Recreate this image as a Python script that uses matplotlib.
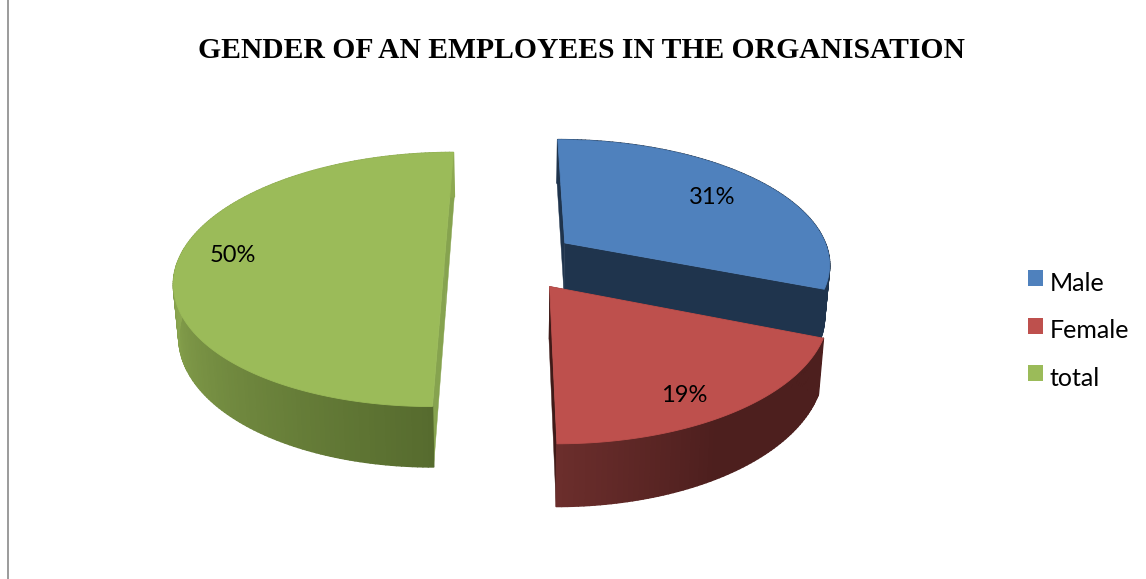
import numpy as np
import matplotlib
matplotlib.use("Agg")
import matplotlib.pyplot as plt
from matplotlib.collections import PolyCollection
from matplotlib.colors import to_rgb
from matplotlib.legend_handler import HandlerPatch
from matplotlib.patches import Patch, Polygon, Rectangle

TITLE      = "GENDER OF AN EMPLOYEES IN THE ORGANISATION"
categories = ["Male", "Female", "total"]
shares     = [31, 19, 50]

TOP_COLORS  = ["#4F81BD", "#BE504D", "#9BBB59"]
FACE_COLORS = ["#1F344D", "#3F1A18", "#86A34F"]
# wall shading along the rim: (angle clockwise from 12 o'clock, colour)
WALL_STOPS = [
    [(0, "#1F344D"), (360, "#1F344D")],
    [(0, "#4D1F1E"), (150, "#4D1F1E"), (180, "#6B2E2C")],
    [(180, "#566B2E"), (270, "#8DA951"), (360, "#8DA951")],
]
LABEL_XY = [(712, 197), (684, 395), (233, 255)]

# projection of the pie plane onto the canvas (pixels)
CX, CY = 511, 260
RX, RY = 266, 124
PERSP  = 0.154
DEPTH  = 51
DROP_SHRINK = 0.984
EXPLODE = 0.25


def project(x, v, drop=0.0):
    x, v = np.asarray(x, float), np.asarray(v, float)
    s = 1.0 / (1.0 - PERSP * v)
    px = RX * x * s
    py = RY * v * s + drop * s
    if drop:
        px = px * DROP_SHRINK
    return CX + px, CY + py


def wall_color(theta, stops):
    angles = [a for a, _ in stops]
    rgb = np.array([to_rgb(c) for _, c in stops])
    return [np.interp(theta, angles, rgb[:, i]) for i in range(3)]


def raised_square(legend, orig_handle, xdescent, ydescent, width, height, fontsize):
    # legend keys sit a little above the text baseline
    return Rectangle((-xdescent, -ydescent + 2.9), width, height)


fig = plt.figure(figsize=(11.46, 5.79), dpi=100, facecolor="white")
ax = fig.add_axes([0, 0, 1, 1])
ax.set_xlim(0, 1146)
ax.set_ylim(579, 0)
ax.axis("off")

# page margin rule on the left
ax.plot([8, 8], [0, 579], color="#808080", lw=1.1)

ax.text(581, 50, TITLE, ha="center", va="center", fontsize=21.3,
        fontweight="bold", family="Liberation Serif", color="black")

# cumulative angles, clockwise from 12 o'clock
edges = np.concatenate([[0], np.cumsum(shares)]) / np.sum(shares) * 360

# back slices first so the red one sits on top of the navy wall
for i in [0, 2, 1]:
    start, end = edges[i], edges[i + 1]
    mid = np.radians((start + end) / 2)
    ox, ov = EXPLODE * np.sin(mid), -EXPLODE * np.cos(mid)

    theta = np.linspace(start, end, int(end - start) + 2)
    rad = np.radians(theta)
    rim_x, rim_v = ox + np.sin(rad), ov - np.cos(rad)

    top_x, top_y = project(rim_x, rim_v)
    low_x, low_y = project(rim_x, rim_v, DEPTH)
    apex_x, apex_y = project(ox, ov)
    apex_lx, apex_ly = project(ox, ov, DEPTH)

    # the two cut faces
    for k in (0, -1):
        ax.add_patch(Polygon([(apex_x, apex_y), (top_x[k], top_y[k]),
                              (low_x[k], low_y[k]), (apex_lx, apex_ly)],
                             closed=True, facecolor=FACE_COLORS[i],
                             edgecolor=FACE_COLORS[i], lw=0.3))

    # rim wall as thin strips so the shading can vary
    strips, cols = [], []
    for j in range(len(theta) - 1):
        strips.append([(top_x[j], top_y[j]), (top_x[j + 1], top_y[j + 1]),
                       (low_x[j + 1], low_y[j + 1]), (low_x[j], low_y[j])])
        cols.append(wall_color((theta[j] + theta[j + 1]) / 2, WALL_STOPS[i]))
    ax.add_collection(PolyCollection(strips, facecolors=cols, edgecolors="face",
                                     linewidths=1.2))

    # top surface
    outline = [(apex_x, apex_y)] + list(zip(top_x, top_y))
    ax.add_patch(Polygon(outline, closed=True, facecolor=TOP_COLORS[i],
                         edgecolor=TOP_COLORS[i], lw=0.6))

for (lx, ly), val in zip(LABEL_XY, shares):
    ax.text(lx, ly, f"{val}%", ha="center", va="center", fontsize=17,
            family="Lato", color="black")

handles = [Patch(facecolor=c, edgecolor="none") for c in TOP_COLORS]
ax.legend(handles, categories, loc="upper left", bbox_to_anchor=(1028, 272),
          bbox_transform=ax.transData, frameon=False,
          prop={"family": "Lato", "size": 18}, handlelength=0.6,
          handleheight=0.6, handletextpad=0.28, labelspacing=0.98,
          borderpad=0, borderaxespad=0,
          handler_map={Patch: HandlerPatch(patch_func=raised_square)})

fig.savefig("out.png", dpi=100, facecolor="white")
